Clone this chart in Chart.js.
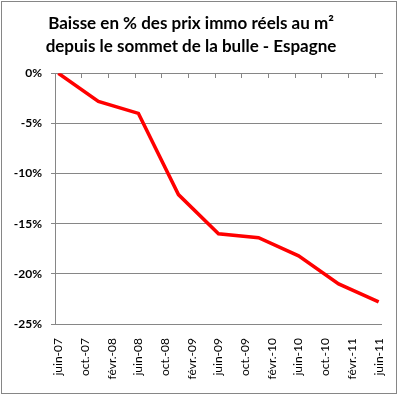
<!DOCTYPE html>
<html>
<head>
<meta charset="utf-8">
<script src="https://cdn.jsdelivr.net/npm/chart.js@4/dist/chart.umd.min.js"></script>
<style>
  body { margin: 0; background: #fff; }
  #wrap { position: relative; width: 398px; height: 396px; }
  #frame { position: absolute; left: 1px; top: 1px; width: 394px; height: 391px; border: 1px solid #868686; pointer-events: none; }
</style>
</head>
<body>
<div id="wrap">
  <canvas id="baisseChart" width="398" height="396"></canvas>
  <div id="frame"></div>
</div>
<script>
// Months since juin-07 (semi-annual points)
const months = [0, 6, 12, 18, 24, 30, 36, 42, 48]
// Baisse en % (prix réels au m2)
const baisse = [0, -2.8, -4.0, -12.1, -16.0, -16.4, -18.2, -21.0, -22.8]
// x tick labels, every 4 months
const monthLabels = [
  'juin-07', 'oct.-07', 'févr.-08', 'juin-08', 'oct.-08', 'févr.-09', 'juin-09',
  'oct.-09', 'févr.-10', 'juin-10', 'oct.-10', 'févr.-11', 'juin-11'
]
const yTicks = [0, -5, -10, -15, -20, -25]

const gridGray = '#868686'
const chartEl = document.getElementById('baisseChart')

const data = {
  datasets: [{
    label: 'Espagne',
    // Excel-style date axis: each point sits in the middle of its month
    data: months.map((m, i) => ({ x: m + 0.5, y: baisse[i] })),
    borderColor: '#ff0000',
    borderWidth: 3.5,
    borderCapStyle: 'butt',
    pointRadius: 0,
    tension: 0,
    fill: false,
    xAxisID: 'x'
  }]
}

new Chart(chartEl, {
  type: 'line',
  data: data,
  options: {
    responsive: false,
    animation: false,
    devicePixelRatio: 1,
    layout: { padding: { left: 0, right: 16, top: 0, bottom: 0 } },
    plugins: {
      legend: { display: false },
      tooltip: { enabled: false },
      title: {
        display: true,
        text: ['Baisse en % des prix immo réels au m²', 'depuis le sommet de la bulle - Espagne'],
        color: '#000',
        font: { family: 'Lato', size: 17, weight: 'bold', lineHeight: 1.36 },
        padding: { top: 12, bottom: 15 }
      }
    },
    scales: {
      x: {
        type: 'linear',
        position: 'bottom',
        min: 0,
        max: 49,
        afterFit: (axis) => {
          axis.height = 72
          axis.paddingLeft = 0
          axis.paddingRight = 0
        },
        border: { display: false },
        grid: { drawOnChartArea: false, drawTicks: false },
        ticks: {
          stepSize: 4,
          includeBounds: false,
          autoSkip: false,
          minRotation: 90,
          maxRotation: 90,
          padding: 14,
          labelOffset: 3.3,
          color: '#000',
          font: { family: 'Lato', size: 12 },
          callback: (v) => monthLabels[v / 4]
        }
      },
      // date axis crossing at 0%, tick marks pointing into the plot
      xTop: {
        type: 'linear',
        position: { y: 0 },
        min: 0,
        max: 49,
        border: { display: true, color: gridGray, width: 1 },
        grid: { drawOnChartArea: false, drawTicks: true, tickLength: 4, color: gridGray },
        ticks: { display: false, stepSize: 4, includeBounds: false, autoSkip: false }
      },
      y: {
        min: -25,
        max: 0,
        afterFit: (axis) => { axis.width = 55 },
        afterBuildTicks: (axis) => { axis.ticks = yTicks.map(v => ({ value: v })) },
        border: { display: true, color: gridGray, width: 1 },
        grid: { color: gridGray, lineWidth: 1, tickLength: 4 },
        ticks: {
          padding: 9,
          color: '#000',
          font: { family: 'Lato', size: 12, weight: 'bold' },
          callback: (v) => v + '%'
        }
      }
    }
  }
})
</script>
</body>
</html>
